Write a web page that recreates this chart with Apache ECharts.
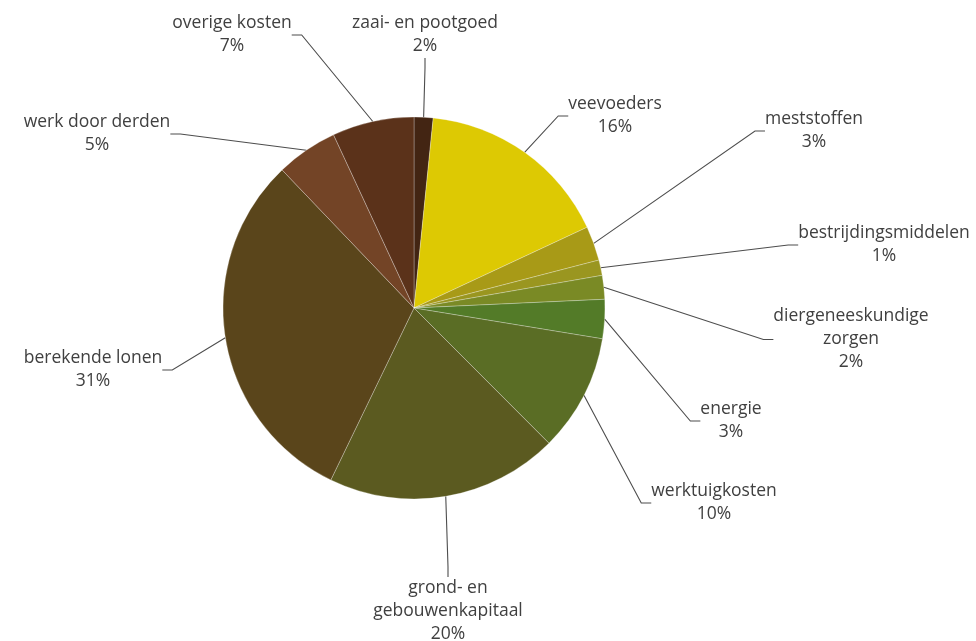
<!DOCTYPE html>
<html>
<head>
<meta charset="utf-8">
<script src="https://cdn.jsdelivr.net/npm/echarts@6/dist/echarts.min.js"></script>
<style>
  html, body { margin: 0; padding: 0; background: #fff; }
  #main { width: 976px; height: 641px; }
</style>
</head>
<body>
<div id="main"></div>
<script>
// kostenposten, met de klok mee vanaf boven
var categories = [
  'zaai- en pootgoed',
  'veevoeders',
  'meststoffen',
  'bestrijdingsmiddelen',
  'diergeneeskundige\nzorgen',
  'energie',
  'werktuigkosten',
  'grond- en\ngebouwenkapitaal',
  'berekende lonen',
  'werk door derden',
  'overige kosten'
]
var values = [1.6, 16.4, 2.9, 1.3, 2.0, 3.3, 9.9, 19.6, 30.6, 5.2, 6.9]

var colors = [
  '#432513', '#ddc903', '#a89a17', '#9a9620', '#7a8a25', '#537b28',
  '#5a6d25', '#5b5a20', '#5a451b', '#734426', '#5b321a'
]
// label anchor (center x, top y)
var labelPos = [
  [425, 12], [615, 93], [814, 108], [884, 222], [851, 305], [731, 398],
  [714, 480], [448, 577], [93, 347], [97, 111], [232, 12]
]

var myChart = echarts.init(document.getElementById('main'))
var option = {
  animation: false,
  color: colors,
  series: [
    {
      type: 'pie',
      center: [414, 308],
      radius: 191,
      startAngle: 90,
      clockwise: true,
      itemStyle: {
        borderColor: 'rgba(255,255,255,0.35)',
        borderWidth: 0.8
      },
      label: {
        show: true,
        position: 'outside',
        fontFamily: 'Open Sans',
        fontSize: 17.5,
        lineHeight: 23,
        color: '#404040',
        formatter: function (p) {
          return p.name + '\n' + Math.round(p.percent) + '%'
        }
      },
      labelLine: {
        show: true,
        length: 10,
        length2: 10,
        lineStyle: { color: '#4d4d4d', width: 1.1 }
      },
      labelLayout: function (params) {
        var pos = labelPos[params.dataIndex]
        return {
          x: pos[0],
          y: pos[1],
          align: 'center',
          verticalAlign: 'top'
        }
      },
      data: categories.map(function (name, i) {
        return { name: name, value: values[i] }
      })
    }
  ]
}
option && myChart.setOption(option)
</script>
</body>
</html>
